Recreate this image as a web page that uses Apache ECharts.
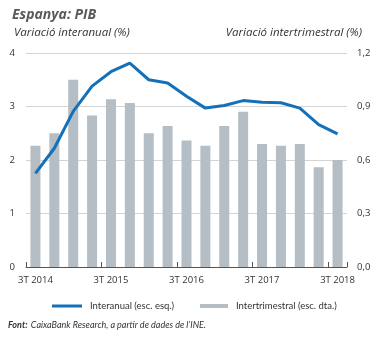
<!DOCTYPE html>
<html>
<head>
<meta charset="utf-8">
<script src="https://cdn.jsdelivr.net/npm/echarts@6/dist/echarts.min.js"></script>
<style>html,body{margin:0;padding:0;background:#fff;}#c{width:381px;height:338px;}</style>
</head>
<body>
<div id="c"></div>
<script>
const categories = ["3T 2014","4T 2014","1T 2015","2T 2015","3T 2015","4T 2015","1T 2016","2T 2016","3T 2016","4T 2016","1T 2017","2T 2017","3T 2017","4T 2017","1T 2018","2T 2018","3T 2018"];
const interanual = [1.75,2.22,2.91,3.38,3.65,3.81,3.50,3.44,3.19,2.97,3.02,3.11,3.08,3.07,2.97,2.66,2.49];
const intertrimestral = [0.68,0.75,1.05,0.85,0.94,0.92,0.75,0.79,0.71,0.68,0.79,0.87,0.69,0.68,0.69,0.56,0.60];
const leftTicks = [0,1,2,3,4];
const rightTicks = [0,0.3,0.6,0.9,1.2];

const FONT = '"Open Sans", "Noto Sans", sans-serif';
const FONT2 = 'Lato, "Open Sans", sans-serif';
const chart = echarts.init(document.getElementById('c'), null, {renderer:'canvas'});
const legendText = {fontFamily:FONT2,fontSize:9.5,color:'#333',padding:[0,0,0,3]};
chart.setOption({
  animation:false,
  textStyle:{fontFamily:FONT},
  title:[
    {text:'Espanya: PIB', left:7, top:3, textStyle:{fontFamily:FONT,fontSize:14,fontWeight:'bold',fontStyle:'italic',color:'#5a5a5a'}},
    {text:'Variació interanual (%)', left:9, top:22, textStyle:{fontFamily:FONT,fontSize:11.5,fontWeight:'normal',fontStyle:'italic',color:'#333'}},
    {text:'Variació intertrimestral (%)', right:14, top:22, textStyle:{fontFamily:FONT,fontSize:11.5,fontWeight:'normal',fontStyle:'italic',color:'#333'}}
  ],
  grid:{left:26,right:34,top:53,bottom:71,containLabel:false},
  legend:[
    {left:47, top:296, itemWidth:30, itemHeight:3, itemGap:4, textStyle:legendText,
     data:[{name:'Interanual (esc. esq.)',icon:'rect'}]},
    {left:195, top:296, itemWidth:28, itemHeight:4, itemGap:4, textStyle:legendText,
     data:[{name:'Intertrimestral (esc. dta.)',icon:'rect'}]}
  ],
  xAxis:{
    type:'category', data:categories, boundaryGap:true,
    axisLine:{lineStyle:{color:'#555',width:1}},
    axisTick:{show:true,inside:true,length:5,interval:3,alignWithLabel:false,lineStyle:{color:'#555'}},
    axisLabel:{interval:3,color:'#333',fontSize:9.5,margin:8,fontFamily:FONT}
  },
  yAxis:[
    {type:'value',min:0,max:4,interval:1,
     axisLine:{show:false},axisTick:{show:false},
     axisLabel:{color:'#333',fontSize:9.5,margin:11,fontFamily:FONT,formatter:v=>String(v)},
     splitLine:{show:true,lineStyle:{color:'#d4d4d4',width:1}}},
    {type:'value',min:0,max:1.2,interval:0.3,
     axisLine:{show:false},axisTick:{show:false},
     axisLabel:{color:'#333',fontSize:9.5,margin:10,fontFamily:FONT,formatter:v=>v.toFixed(1).replace('.',',')},
     splitLine:{show:false}}
  ],
  series:[
    {name:'Interanual (esc. esq.)',type:'line',yAxisIndex:0,data:interanual,showSymbol:false,symbol:'none',
     lineStyle:{color:'#1370b9',width:3},itemStyle:{color:'#1370b9'},z:3},
    {name:'Intertrimestral (esc. dta.)',type:'bar',yAxisIndex:1,data:intertrimestral,barWidth:10,
     itemStyle:{color:'#b4bec4'},z:2}
  ],
  graphic:[
    {type:'text',left:8,top:319,style:{rich:{b:{fontFamily:FONT2,fontSize:9,fontWeight:'bold',fontStyle:'italic',fill:'#333'},n:{fontFamily:FONT2,fontSize:9,fontStyle:'italic',fill:'#333'}},text:'{b|Font:} {n|CaixaBank Research, a partir de dades de l\u2019INE.}'}}
  ]
});
</script>
</body>
</html>
